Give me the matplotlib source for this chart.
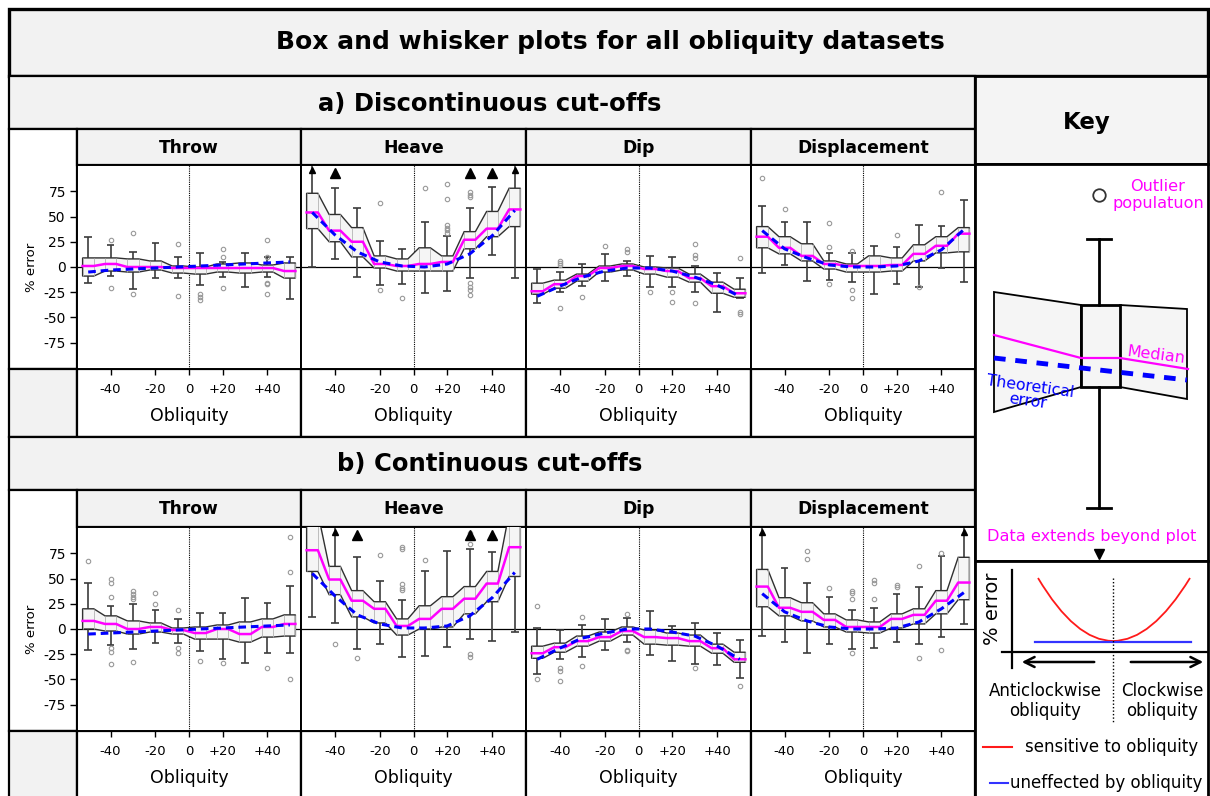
import numpy as np
import matplotlib.pyplot as plt
from matplotlib.patches import Rectangle, Polygon, PathPatch
from matplotlib.path import Path

# ten obliquity bins, -50..-10 and +10..+50, zero sits between bins 5 and 6
positions = np.arange(1, 11)
tick_pos = [2, 4, 5.5, 7, 9]
tick_labels = ['-40', '-20', '0', '+20', '+40']
ytick_vals = [-75, -50, -25, 0, 25, 50, 75]
panel_names = ['Throw', 'Heave', 'Dip', 'Displacement']

# ---- a) discontinuous cut-offs ----
throw_a_whi = [30, 22, 15, 24, 10, 14, 5, 14, 10, 10]
throw_a_q3 = [9, 9, 8, 6, 1, 0, 3, 4, 2, 4]
throw_a_med = [1, 3, 0, 0, -1, -1, -1, -1, -1, -4]
throw_a_q1 = [-9, -4, -5, -3, -6, -7, -5, -6, -5, -11]
throw_a_wlo = [-16, -9, -22, -11, -11, -18, -10, -20, -10, -32]
throw_a_theory = [-5, -3, -2, -1, 0, 1, 2, 3, 4, 5]
throw_a_out = [(2, 27), (2, -21), (3, 34), (3, -27), (5, 23), (5, -29), (6, -27), (6, -30),
               (6, -33), (7, 18), (7, 10), (7, -21), (9, 27), (9, 10), (9, -16), (9, -17), (9, -27)]

heave_a_whi = [130, 78, 58, 26, 18, 45, 31, 58, 79, 130]
heave_a_q3 = [73, 52, 39, 11, 8, 19, 11, 35, 55, 78]
heave_a_med = [54, 36, 25, 3, 1, 3, 5, 27, 38, 57]
heave_a_q1 = [38, 25, 10, -1, -4, -4, -4, 18, 30, 40]
heave_a_wlo = [0, 8, -10, -18, -17, -26, -24, -11, 12, -11]
heave_a_theory = [54, 32, 15, 5, 1, 0, 3, 13, 31, 56]
heave_a_out = [(2, 130), (8, 130), (9, 130), (4, 63), (4, -23), (5, -31), (6, 78), (7, 82),
               (7, 67), (7, 42), (7, 39), (7, 37), (7, 34), (8, 74), (8, 71), (8, 69),
               (8, -16), (8, -20), (8, -23), (8, -28)]

dip_a_whi = [-2, -5, 3, 13, 6, 11, 10, 1, -6, -11]
dip_a_q3 = [-16, -13, -7, 1, 3, 0, -1, -7, -15, -22]
dip_a_med = [-24, -17, -9, -1, 1, -2, -4, -11, -19, -26]
dip_a_q1 = [-27, -21, -14, -5, -3, -7, -10, -15, -26, -30]
dip_a_wlo = [-36, -25, -19, -14, -9, -20, -20, -25, -45, -31]
dip_a_theory = [-29, -19, -10, -4, -1, -1, -4, -10, -18, -29]
dip_a_out = [(2, 6), (2, 4), (2, 2), (2, -41), (3, -30), (4, 21), (5, 18), (5, 15), (6, -25),
             (7, -25), (7, -35), (8, 23), (8, 12), (8, 9), (8, -36), (10, 9), (10, -45), (10, -47)]

disp_a_whi = [60, 45, 45, 14, 14, 21, 20, 42, 41, 66]
disp_a_q3 = [40, 30, 23, 6, 3, 11, 9, 22, 30, 39]
disp_a_med = [30, 19, 11, 3, 1, 1, 2, 13, 21, 33]
disp_a_q1 = [19, 13, 6, -2, -5, -5, -4, 6, 14, 15]
disp_a_wlo = [-6, 2, -14, -13, -15, -27, -17, -20, -1, -15]
disp_a_theory = [36, 18, 9, 2, 0, 0, 1, 6, 17, 37]
disp_a_out = [(1, 88), (2, 57), (4, 44), (4, 20), (4, -17), (5, 16), (5, -23), (5, -31),
              (7, 32), (8, -20), (9, 74)]

# ---- b) continuous cut-offs ----
throw_b_whi = [46, 23, 25, 19, 10, 16, 16, 31, 26, 43]
throw_b_q3 = [20, 13, 8, 6, 1, 2, 4, 7, 10, 14]
throw_b_med = [8, 5, 0, 2, -1, -4, 0, -5, 2, 5]
throw_b_q1 = [0, -2, -5, -3, -5, -10, -10, -13, -8, -7]
throw_b_wlo = [-21, -16, -20, -14, -14, -22, -30, -34, -24, -24]
throw_b_theory = [-5, -4, -3, -2, -1, 0, 1, 2, 3, 4]
throw_b_out = [(1, 67), (2, 50), (2, 46), (2, 32), (2, -19), (2, -23), (2, -35), (3, 38),
               (3, 35), (3, 32), (3, 30), (3, -33), (4, 36), (4, 25), (5, 19), (5, -19),
               (5, -24), (6, -32), (7, -34), (9, -39), (10, 91), (10, 56), (10, -50)]

heave_b_whi = [150, 130, 71, 48, 29, 57, 77, 79, 76, 150]
heave_b_q3 = [115, 62, 38, 27, 10, 23, 32, 42, 57, 115]
heave_b_med = [78, 49, 28, 20, 3, 10, 20, 30, 45, 81]
heave_b_q1 = [57, 34, 12, 6, -6, 0, 2, 15, 27, 52]
heave_b_wlo = [12, 6, -20, -15, -28, -27, -18, -10, -12, -3]
heave_b_theory = [55, 33, 14, 5, 1, 1, 3, 13, 31, 56]
heave_b_out = [(2, -15), (3, 130), (3, -29), (4, 73), (5, 81), (5, 79), (5, 45), (5, 41),
               (5, 39), (6, 68), (8, 95), (8, 84), (8, 130), (8, -25), (8, -28), (9, 130)]

dip_b_whi = [1, -1, 4, 10, 11, 18, 3, 6, -4, -11]
dip_b_q3 = [-17, -14, -7, -3, 2, -1, -4, -6, -15, -23]
dip_b_med = [-24, -18, -12, -8, -2, -8, -9, -12, -19, -30]
dip_b_q1 = [-29, -23, -17, -12, -6, -15, -16, -17, -24, -33]
dip_b_wlo = [-45, -30, -28, -21, -13, -26, -32, -35, -36, -49]
dip_b_theory = [-30, -19, -9, -4, 0, 0, -3, -7, -17, -30]
dip_b_out = [(1, 23), (1, -50), (2, -39), (2, -42), (2, -51), (3, 12), (3, -37), (5, 15),
             (5, -21), (5, -22), (8, -39), (10, -56)]

disp_b_whi = [130, 60, 46, 32, 19, 21, 35, 42, 72, 130]
disp_b_q3 = [59, 31, 26, 15, 9, 7, 15, 20, 38, 71]
disp_b_med = [42, 21, 17, 9, 2, 2, 10, 14, 28, 46]
disp_b_q1 = [22, 13, 8, 2, -3, -4, 1, 5, 15, 29]
disp_b_wlo = [-7, -13, -24, -15, -20, -19, -13, -15, -8, 5]
disp_b_theory = [35, 17, 8, 2, 0, 0, 1, 7, 20, 36]
disp_b_out = [(3, 77), (3, 69), (4, 41), (5, 38), (5, 36), (5, 30), (5, -24), (6, 49),
              (6, 46), (6, 30), (7, 44), (7, 42), (8, 62), (8, -29), (9, 75), (9, -21)]

rows = [
    [(throw_a_whi, throw_a_q3, throw_a_med, throw_a_q1, throw_a_wlo, throw_a_theory, throw_a_out),
     (heave_a_whi, heave_a_q3, heave_a_med, heave_a_q1, heave_a_wlo, heave_a_theory, heave_a_out),
     (dip_a_whi, dip_a_q3, dip_a_med, dip_a_q1, dip_a_wlo, dip_a_theory, dip_a_out),
     (disp_a_whi, disp_a_q3, disp_a_med, disp_a_q1, disp_a_wlo, disp_a_theory, disp_a_out)],
    [(throw_b_whi, throw_b_q3, throw_b_med, throw_b_q1, throw_b_wlo, throw_b_theory, throw_b_out),
     (heave_b_whi, heave_b_q3, heave_b_med, heave_b_q1, heave_b_wlo, heave_b_theory, heave_b_out),
     (dip_b_whi, dip_b_q3, dip_b_med, dip_b_q1, dip_b_wlo, dip_b_theory, dip_b_out),
     (disp_b_whi, disp_b_q3, disp_b_med, disp_b_q1, disp_b_wlo, disp_b_theory, disp_b_out)],
]

MAGENTA = '#ff00ff'
BLUE = '#0000ff'
HEAD = '#f2f2f2'
WHISK = '#3c3c3c'

W, H = 1210, 796
fig = plt.figure(figsize=(W / 100, H / 100), dpi=100)

# background axes in pixel units (y down) for the frame, headers and key
bg = fig.add_axes([0, 0, 1, 1])
bg.set_xlim(0, W)
bg.set_ylim(H, 0)
bg.axis('off')


def cell(x0, y0, x1, y1, fc='white', lw=1.6):
    bg.add_patch(Rectangle((x0, y0), x1 - x0, y1 - y0, fc=fc, ec='black', lw=lw))


def px_axes(x0, y0, x1, y1):
    return fig.add_axes([x0 / W, 1 - y1 / H, (x1 - x0) / W, (y1 - y0) / H])


def draw_panel(ax, whi, q3, med, q1, wlo, theory, outliers):
    whi, q3, med, q1, wlo = (np.asarray(v, float) for v in (whi, q3, med, q1, wlo))
    ax.set_xlim(0.5, 10.5)
    ax.set_ylim(-101, 101)
    ax.axhline(0, color='black', lw=0.9, zorder=1)
    ax.axvline(5.5, color='black', lw=0.8, ls=(0, (1, 1)), zorder=1)

    # whiskers and caps
    ax.vlines(positions, q3, whi, color=WHISK, lw=1.2, zorder=2)
    ax.vlines(positions, wlo, q1, color=WHISK, lw=1.2, zorder=2)
    inside = whi <= 100
    ax.hlines(whi[inside], positions[inside] - 0.17, positions[inside] + 0.17, color=WHISK, lw=1.2, zorder=2)
    ax.hlines(wlo, positions - 0.17, positions + 0.17, color=WHISK, lw=1.2, zorder=2)
    off = (whi > 100) & (q3 < 100)
    ax.plot(positions[off], np.full(off.sum(), 96), ls='none', marker='^', ms=4, color='black', zorder=2)

    # interquartile band joining neighbouring boxes
    hw = 0.25
    xs = np.column_stack([positions - hw, positions + hw]).ravel()
    top = np.repeat(q3, 2)
    bot = np.repeat(q1, 2)
    band = np.column_stack([np.r_[xs, xs[::-1]], np.r_[top, bot[::-1]]])
    ax.add_patch(Polygon(band, closed=True, fc='#f5f5f5', ec='#303030', lw=1.0, zorder=3))
    ax.vlines(xs, bot, top, color='#b4b4b4', lw=0.6, zorder=3.5)

    ax.plot(xs, np.repeat(med, 2), color=MAGENTA, lw=1.8, zorder=4)
    ax.plot(positions, theory, color=BLUE, lw=2.2, ls=(0, (2.5, 1.6)), zorder=5)

    ox = np.array([o[0] for o in outliers], float)
    oy = np.array([o[1] for o in outliers], float)
    within = oy <= 100
    ax.plot(ox[within], oy[within], ls='none', marker='o', ms=3.2, mfc='none',
            mec='#999999', mew=0.8, zorder=4)
    ax.plot(ox[~within], np.full((~within).sum(), 93), ls='none', marker='^', ms=6.5,
            color='black', zorder=6)

    ax.set_xticks(tick_pos)
    ax.set_xticklabels(tick_labels)
    ax.tick_params(axis='x', direction='out', length=4, width=1, labelsize=9.5, pad=6)
    ax.set_xlabel('Obliquity', fontsize=12.5, labelpad=8)
    for s in ax.spines.values():
        s.set_linewidth(1.4)


# title strip
cell(9, 9, 1208, 76, fc=HEAD, lw=2.4)
bg.text(610, 42, 'Box and whisker plots for all obliquity datasets', ha='center', va='center',
        fontsize=18, fontweight='bold')

col_edges = [77, 301, 526, 751, 975]
row_specs = [
    # header top, strip top, plot top, plot bottom, row bottom, title
    (76, 129, 165, 369, 437, 'a) Discontinuous cut-offs'),
    (437, 490, 527, 731, 798, 'b) Continuous cut-offs'),
]

for r, (h0, s0, p0, p1, r1, title) in enumerate(row_specs):
    cell(9, h0, 975, s0, fc=HEAD)
    bg.text(490, (h0 + s0) / 2 + 1, title, ha='center', va='center', fontsize=17.5, fontweight='bold')
    cell(9, s0, 77, p1)
    cell(9, p1, 77, r1, fc=HEAD)
    for c in range(4):
        x0, x1 = col_edges[c], col_edges[c + 1]
        cell(x0, s0, x1, p0, fc=HEAD)
        bg.text((x0 + x1) / 2, (s0 + p0) / 2 + 1, panel_names[c], ha='center', va='center',
                fontsize=12.3, fontweight='bold')
        cell(x0, p1, x1, r1)
        ax = px_axes(x0, p0, x1, p1)
        draw_panel(ax, *rows[r][c])
        if c == 0:
            ax.set_yticks(ytick_vals)
            ax.set_yticklabels([str(v) for v in ytick_vals])
            ax.tick_params(axis='y', direction='out', length=5, width=1, labelsize=10, pad=3)
            ax.set_ylabel('% error', fontsize=9.5, labelpad=4)
        else:
            ax.set_yticks([])

# ---- key ----
cell(975, 76, 1208, 164, fc='#f4f4f4', lw=2.0)
bg.text(1087, 122, 'Key', ha='center', va='center', fontsize=16.5, fontweight='bold')
cell(975, 164, 1208, 561, lw=2.0)
cell(975, 561, 1208, 798, lw=2.0)

# schematic box and whisker
bg.plot(1099, 195, marker='o', ms=9, mfc='white', mec='#333333', mew=1.3)
bg.text(1158, 195, 'Outlier\npopulatuon', color=MAGENTA, ha='center', va='center',
        fontsize=11.6, linespacing=1.1)
bg.plot([1099, 1099], [239, 305], color='black', lw=2)
bg.plot([1099, 1099], [387, 508], color='black', lw=2)
bg.plot([1087, 1111], [239, 239], color='black', lw=2)
bg.plot([1087, 1111], [508, 508], color='black', lw=2)
bg.add_patch(Polygon([(994, 292), (1081, 305), (1081, 387), (994, 412)], closed=True,
                     fc='#f5f5f5', ec='black', lw=1.3))
bg.add_patch(Polygon([(1120, 305), (1187, 309), (1187, 399), (1120, 387)], closed=True,
                     fc='#f5f5f5', ec='black', lw=1.3))
bg.add_patch(Rectangle((1081, 305), 39, 82, fc='#f5f5f5', ec='black', lw=2))
bg.plot([994, 1081, 1120, 1188], [335, 358, 358, 369], color=MAGENTA, lw=1.6)
bg.plot([994, 1187], [358, 380], color=BLUE, lw=3.5, ls=(0, (2.4, 2.0)))
bg.text(1156, 355, 'Median', color=MAGENTA, ha='center', va='center', fontsize=11.5, rotation=-7)
bg.text(1029, 394, 'Theoretical\nerror', color=BLUE, ha='center', va='center', fontsize=11.3,
        rotation=-8, linespacing=1.0)
bg.text(1092, 537, 'Data extends beyond plot', color=MAGENTA, ha='center', va='center', fontsize=11.6)
bg.plot(1099, 554, marker='v', ms=7, color='black')

# sensitivity sketch
bg.plot([1012, 1012], [570, 668], color='black', lw=1.6)
bg.plot([1002, 1207], [652, 652], color='black', lw=1.6)
bg.text(992, 609, '% error', rotation=90, ha='center', va='center', fontsize=14)
curve = Path([(1038, 578), (1075.5, 641), (1113, 641), (1151.5, 641), (1190, 578)],
             [Path.MOVETO, Path.CURVE3, Path.CURVE3, Path.CURVE3, Path.CURVE3])
bg.add_patch(PathPatch(curve, fc='none', ec='#ff1a1a', lw=1.3))
bg.plot([1035, 1191], [642, 642], color='#3333ff', lw=1.6)
bg.plot([1113, 1113], [578, 722], color='black', lw=1.0, ls=(0, (1, 1.5)))
bg.annotate('', xy=(1019, 662), xytext=(1097, 662),
            arrowprops=dict(arrowstyle='->', lw=1.8, color='black', mutation_scale=18))
bg.annotate('', xy=(1206, 662), xytext=(1128, 662),
            arrowprops=dict(arrowstyle='->', lw=1.8, color='black', mutation_scale=18))
bg.text(1045, 701, 'Anticlockwise\nobliquity', ha='center', va='center', fontsize=12, linespacing=1.15)
bg.text(1162, 701, 'Clockwise\nobliquity', ha='center', va='center', fontsize=12, linespacing=1.15)
bg.plot([983, 1012], [747, 747], color='#ff1a1a', lw=1.5)
bg.text(1025, 747, 'sensitive to obliquity', ha='left', va='center', fontsize=12)
bg.plot([990, 1008], [783, 783], color='#3333ff', lw=1.5)
bg.text(1010, 783, 'uneffected by obliquity', ha='left', va='center', fontsize=12)

fig.savefig('out.png', dpi=100)
